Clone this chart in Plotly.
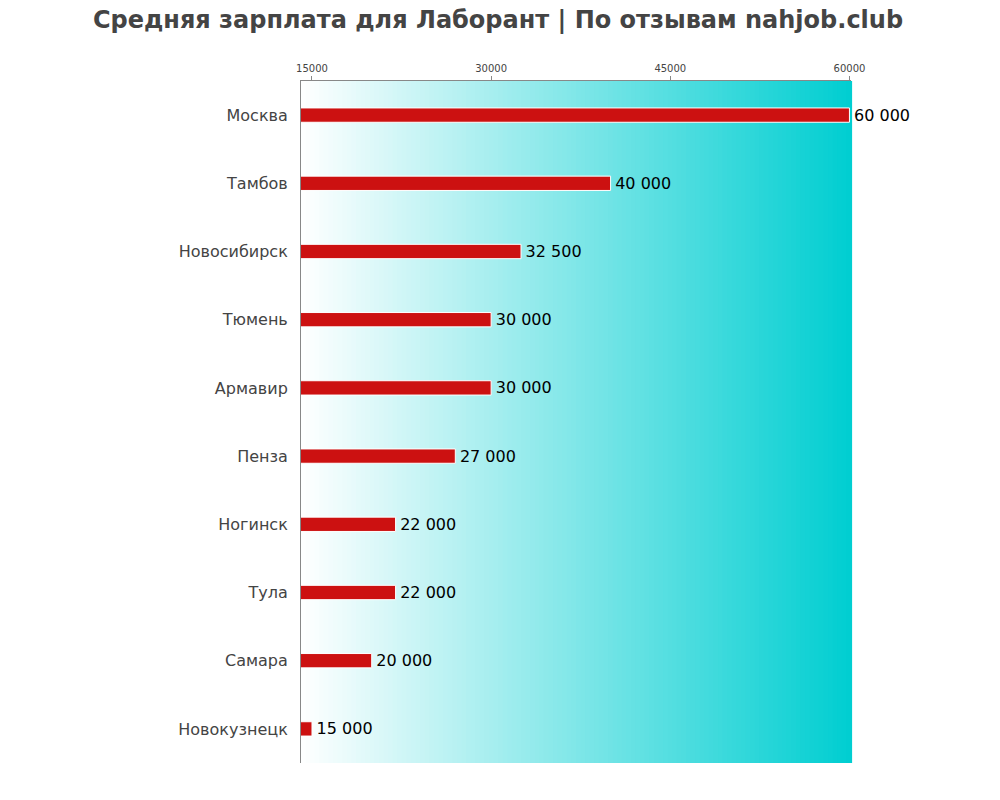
import plotly.graph_objects as go

cities = ["Москва", "Тамбов", "Новосибирск", "Тюмень", "Армавир", "Пенза",
          "Ногинск", "Тула", "Самара", "Новокузнецк"]
salaries = [60000, 40000, 32500, 30000, 30000, 27000, 22000, 22000, 20000, 15000]
tick_vals = [15000, 30000, 45000, 60000]
tick_text = ["15000", "30000", "45000", "60000"]

labels = ["\u200a" + f"{v:,}".replace(",", " ") for v in salaries]

fig = go.Figure(go.Bar(
    x=salaries, y=cities, orientation="h",
    marker=dict(color="#CC1111", line=dict(color="white", width=1)),
    width=0.21,
    text=labels, textposition="outside", cliponaxis=False, constraintext="none",
    textfont=dict(family="DejaVu Sans", size=16, color="black"),
))

# horizontal gradient background white -> dark turquoise
n = 120
c0 = (255, 255, 255)
c1 = (0, 206, 209)
shapes = []
for i in range(n):
    t = (i + 0.5) / n
    r = round(c0[0] + (c1[0] - c0[0]) * t)
    g = round(c0[1] + (c1[1] - c0[1]) * t)
    b = round(c0[2] + (c1[2] - c0[2]) * t)
    shapes.append(dict(type="rect", xref="x domain", yref="y domain",
                       x0=i / n, x1=(i + 1) / n + 0.002, y0=0, y1=1,
                       fillcolor=f"rgb({r},{g},{b})", line=dict(width=0),
                       layer="below"))

fig.update_layout(
    width=1000, height=800,
    margin=dict(l=293, r=157, t=73, b=45),
    paper_bgcolor="white", plot_bgcolor="white",
    shapes=shapes,
    showlegend=False,
    title=dict(text="<b>Средняя зарплата для Лаборант | По отзывам nahjob.club</b>",
               x=0.49, xref="container", xanchor="center", y=0.986, yanchor="middle",
               font=dict(family="DejaVu Sans", size=24, color="#444444")),
    xaxis=dict(side="top", range=[14080, 60130], tickvals=tick_vals, ticktext=tick_text,
               ticks="outside", ticklen=4, tickcolor="#888", showgrid=False, zeroline=False,
               showline=True, linecolor="#888", linewidth=1,
               tickfont=dict(family="DejaVu Sans", size=10, color="#444")),
    yaxis=dict(autorange="reversed", showgrid=False, zeroline=False,
               showline=True, linecolor="#888", linewidth=1, ticks="", ticklen=0,
               tickfont=dict(family="DejaVu Sans", size=16, color="#444444")),
    font=dict(family="DejaVu Sans"),
)
fig.update_yaxes(ticklabelstandoff=9)

fig.write_html("out.html")
